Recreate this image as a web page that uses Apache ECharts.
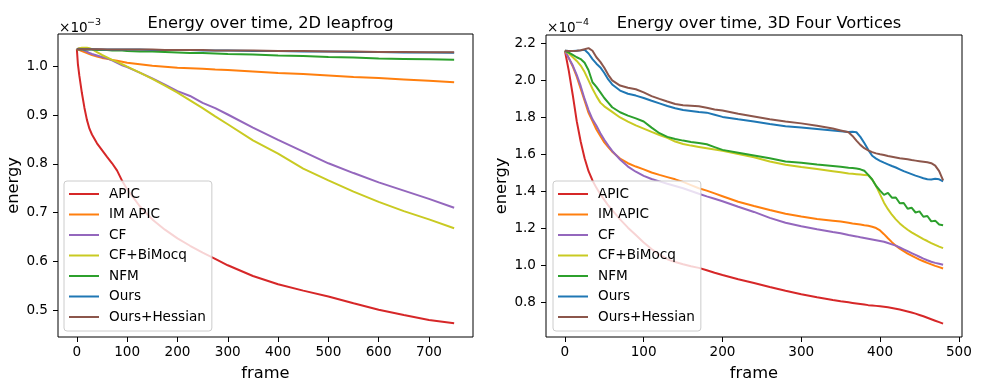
<!DOCTYPE html>
<html>
<head>
<meta charset="utf-8">
<script src="https://cdn.jsdelivr.net/npm/echarts@6/dist/echarts.min.js"></script>
<style>
html,body{margin:0;padding:0;background:#fff;}
#chart{width:985px;height:387px;}
</style>
</head>
<body>
<div id="chart"></div>
<script>
// ---------- Data ----------
const seriesNames = ['APIC', 'IM APIC', 'CF', 'CF+BiMocq', 'NFM', 'Ours', 'Ours+Hessian'];

// Left plot: 2D leapfrog (energy ×10^-3)
const leftFrames = [0,2,5,10,15,20,25,30,40,50,60,70,80,90,100,125,150,175,200,225,250,275,300,350,400,450,500,550,600,650,700,750];
const leftAPIC = [1.035,1.005,0.980,0.945,0.915,0.890,0.872,0.860,0.842,0.828,0.814,0.801,0.786,0.765,0.748,0.713,0.686,0.665,0.647,0.632,0.618,0.605,0.592,0.570,0.553,0.540,0.528,0.514,0.501,0.490,0.480,0.473];
const leftIMAPIC = [1.035,1.034,1.033,1.031,1.029,1.027,1.025,1.023,1.020,1.017,1.015,1.013,1.011,1.009,1.007,1.004,1.001,0.999,0.997,0.996,0.995,0.993,0.992,0.989,0.986,0.984,0.981,0.978,0.976,0.973,0.970,0.967];
const leftCF = [1.035,1.036,1.037,1.035,1.032,1.030,1.027,1.025,1.022,1.019,1.016,1.012,1.007,1.002,0.998,0.987,0.975,0.962,0.949,0.939,0.925,0.914,0.901,0.874,0.849,0.825,0.801,0.781,0.762,0.745,0.728,0.710];
const leftCFBiMocq = [1.035,1.036,1.037,1.038,1.038,1.038,1.037,1.035,1.029,1.023,1.018,1.013,1.009,1.004,0.999,0.987,0.974,0.960,0.946,0.930,0.914,0.897,0.881,0.848,0.821,0.790,0.766,0.743,0.722,0.703,0.686,0.668];
const leftNFM = [1.035,1.035,1.035,1.035,1.034,1.034,1.034,1.034,1.033,1.033,1.033,1.032,1.032,1.032,1.031,1.030,1.030,1.029,1.028,1.027,1.027,1.026,1.025,1.024,1.022,1.021,1.019,1.018,1.016,1.015,1.014,1.013];
const leftOurs = [1.035,1.035,1.035,1.035,1.035,1.035,1.035,1.035,1.035,1.034,1.034,1.034,1.034,1.034,1.034,1.034,1.033,1.033,1.033,1.033,1.032,1.032,1.032,1.031,1.031,1.030,1.030,1.029,1.029,1.028,1.028,1.0275];
const leftOursHessian = [1.035,1.035,1.035,1.035,1.035,1.035,1.035,1.035,1.035,1.035,1.034,1.034,1.034,1.034,1.034,1.034,1.034,1.033,1.033,1.033,1.033,1.032,1.032,1.032,1.031,1.031,1.030,1.030,1.029,1.029,1.0285,1.0285];

// Right plot: 3D Four Vortices (energy ×10^-4)
const rightFrames = [0,5,10,15,20,25,30,35,40,45,50,55,60,70,80,90,100,110,120,130,140,150,160,170,180,190,200,220,240,260,280,300,320,340,350,360,365,370,375,380,385,390,395,400,405,410,415,420,425,430,435,440,445,450,455,460,465,470,475,480];
const rightAPIC = [2.16,2.05,1.92,1.78,1.67,1.58,1.51,1.46,1.42,1.385,1.355,1.325,1.30,1.25,1.205,1.165,1.125,1.09,1.06,1.035,1.02,1.008,0.997,0.988,0.975,0.962,0.95,0.927,0.906,0.885,0.865,0.846,0.83,0.815,0.808,0.802,0.799,0.796,0.793,0.79,0.787,0.785,0.783,0.781,0.778,0.775,0.772,0.768,0.763,0.758,0.753,0.747,0.741,0.734,0.727,0.719,0.711,0.703,0.695,0.687];
const rightIMAPIC = [2.16,2.12,2.075,2.02,1.955,1.89,1.825,1.78,1.735,1.70,1.665,1.64,1.615,1.578,1.553,1.535,1.52,1.503,1.49,1.478,1.466,1.452,1.435,1.418,1.405,1.39,1.375,1.345,1.322,1.30,1.28,1.265,1.252,1.243,1.238,1.232,1.228,1.225,1.222,1.218,1.215,1.21,1.203,1.19,1.17,1.148,1.127,1.108,1.092,1.078,1.065,1.054,1.043,1.033,1.024,1.015,1.007,0.999,0.992,0.985];
const rightCF = [2.16,2.12,2.08,2.03,1.97,1.90,1.84,1.79,1.755,1.715,1.68,1.648,1.62,1.573,1.535,1.507,1.485,1.468,1.455,1.442,1.43,1.418,1.403,1.388,1.374,1.361,1.348,1.318,1.29,1.258,1.232,1.213,1.197,1.182,1.175,1.166,1.162,1.158,1.153,1.149,1.145,1.141,1.137,1.133,1.129,1.122,1.115,1.108,1.098,1.088,1.078,1.068,1.058,1.048,1.038,1.029,1.021,1.015,1.01,1.005];
const rightCFBiMocq = [2.16,2.145,2.125,2.105,2.08,2.045,2.0,1.955,1.915,1.88,1.86,1.845,1.83,1.80,1.777,1.757,1.74,1.722,1.705,1.69,1.67,1.657,1.648,1.641,1.634,1.627,1.62,1.603,1.585,1.562,1.545,1.532,1.522,1.51,1.504,1.498,1.496,1.494,1.492,1.49,1.488,1.465,1.43,1.385,1.34,1.305,1.275,1.25,1.228,1.21,1.194,1.18,1.167,1.155,1.143,1.133,1.122,1.112,1.103,1.095];
const rightNFM = [2.16,2.15,2.138,2.125,2.115,2.095,2.055,1.99,1.965,1.935,1.905,1.88,1.855,1.828,1.81,1.795,1.778,1.745,1.715,1.695,1.684,1.675,1.668,1.662,1.655,1.64,1.625,1.61,1.595,1.58,1.562,1.555,1.546,1.538,1.534,1.529,1.527,1.524,1.52,1.512,1.49,1.465,1.43,1.405,1.382,1.393,1.367,1.368,1.337,1.338,1.307,1.313,1.287,1.293,1.264,1.268,1.239,1.243,1.222,1.218];
const rightOurs = [2.16,2.158,2.158,2.16,2.162,2.165,2.145,2.115,2.09,2.07,2.04,2.005,1.978,1.945,1.928,1.918,1.905,1.89,1.876,1.862,1.85,1.84,1.835,1.83,1.826,1.815,1.803,1.79,1.778,1.765,1.753,1.746,1.738,1.73,1.725,1.721,1.723,1.72,1.695,1.662,1.625,1.593,1.578,1.566,1.556,1.547,1.538,1.53,1.52,1.51,1.502,1.494,1.486,1.479,1.472,1.466,1.465,1.469,1.466,1.455];
const rightOursHessian = [2.16,2.158,2.158,2.16,2.163,2.168,2.174,2.16,2.125,2.10,2.068,2.03,2.0,1.972,1.96,1.952,1.935,1.915,1.90,1.886,1.873,1.866,1.863,1.86,1.852,1.843,1.837,1.82,1.805,1.79,1.778,1.768,1.755,1.74,1.73,1.72,1.70,1.675,1.652,1.634,1.622,1.613,1.606,1.601,1.597,1.592,1.588,1.584,1.58,1.577,1.574,1.57,1.567,1.564,1.561,1.558,1.553,1.54,1.51,1.46];

// Tick labels
const leftXTicks = [0,100,200,300,400,500,600,700];
const leftYTicks = [0.5,0.6,0.7,0.8,0.9,1.0];
const rightXTicks = [0,100,200,300,400,500];
const rightYTicks = [0.8,1.0,1.2,1.4,1.6,1.8,2.0,2.2];

const leftTitle = 'Energy over time, 2D leapfrog';
const rightTitle = 'Energy over time, 3D Four Vortices';

// ---------- Styling ----------
const colors = ['#d62728','#ff7f0e','#9467bd','#c9ca22','#2ca02c','#1f77b4','#8c564b'];
const FONT = 'DejaVu Sans';
const leftValues = [leftAPIC, leftIMAPIC, leftCF, leftCFBiMocq, leftNFM, leftOurs, leftOursHessian];
const rightValues = [rightAPIC, rightIMAPIC, rightCF, rightCFBiMocq, rightNFM, rightOurs, rightOursHessian];

function makeSeries(frames, values, idx) {
  return values.map((vals, i) => ({
    name: seriesNames[i],
    type: 'line',
    xAxisIndex: idx,
    yAxisIndex: idx,
    showSymbol: false,
    symbol: 'none',
    data: frames.map((f, k) => [f, vals[k]]),
    lineStyle: { width: 2, color: colors[i] },
    itemStyle: { color: colors[i] },
    emphasis: { disabled: true }
  }));
}

const grids = [
  { left: 58, top: 34, width: 415, height: 303 },
  { left: 546, top: 35, width: 416, height: 302 }
];

function xAxis(idx, min, max, ticks) {
  return {
    type: 'value', gridIndex: idx, min: min, max: max,
    name: 'frame', nameLocation: 'middle', nameGap: 29,
    nameTextStyle: { fontFamily: FONT, fontSize: 16.3, color: '#000' },
    splitLine: { show: false },
    axisLine: { show: false, onZero: false },
    axisTick: { show: true, length: 5, inside: false, customValues: ticks, lineStyle: { color: '#000', width: 1 } },
    axisLabel: { customValues: ticks, fontFamily: FONT, fontSize: 13.6, color: '#000', margin: 8 }
  };
}
function yAxis(idx, min, max, ticks) {
  return {
    type: 'value', gridIndex: idx, min: min, max: max,
    name: 'energy', nameLocation: 'middle', nameGap: 36, nameRotate: 90,
    nameTextStyle: { fontFamily: FONT, fontSize: 16.3, color: '#000' },
    splitLine: { show: false },
    axisLine: { show: false, onZero: false },
    axisTick: { show: true, length: 5, inside: false, customValues: ticks, lineStyle: { color: '#000', width: 1 } },
    axisLabel: { customValues: ticks, fontFamily: FONT, fontSize: 13.6, color: '#000', margin: 10,
      formatter: v => v.toFixed(1) }
  };
}

function legend(left, top) {
  return {
    data: seriesNames,
    orient: 'vertical',
    left: left, top: top,
    icon: 'rect',
    itemWidth: 30, itemHeight: 2,
    itemGap: 6.5,
    padding: [6, 6, 7, 5],
    backgroundColor: 'rgba(255,255,255,0.8)',
    borderColor: '#cccccc', borderWidth: 1, borderRadius: 3,
    selectedMode: false,
    textStyle: { fontFamily: FONT, fontSize: 13.6, color: '#000', lineHeight: 14, padding: [0, 0, 0, 5] }
  };
}

const option = {
  animation: false,
  backgroundColor: '#ffffff',
  title: [
    { text: leftTitle, left: 265.5, top: 9, textAlign: 'center',
      textStyle: { fontFamily: FONT, fontSize: 16.3, fontWeight: 'normal', color: '#000', lineHeight: 20 } },
    { text: rightTitle, left: 754, top: 9, textAlign: 'center',
      textStyle: { fontFamily: FONT, fontSize: 16.3, fontWeight: 'normal', color: '#000', lineHeight: 20 } }
  ],
  grid: grids.map(g => Object.assign({ show: true, borderColor: '#000', borderWidth: 1, backgroundColor: 'transparent', containLabel: false }, g)),
  xAxis: [xAxis(0, -37.5, 787.5, leftXTicks), xAxis(1, -24, 504, rightXTicks)],
  yAxis: [yAxis(0, 0.445, 1.066, leftYTicks), yAxis(1, 0.615, 2.245, rightYTicks)],
  legend: [legend(64, 181), legend(553, 181)],
  series: makeSeries(leftFrames, leftValues, 0).concat(makeSeries(rightFrames, rightValues, 1)),
  graphic: [
    { type: 'text', left: 59, top: 21, style: { text: '×10', font: '13.6px "DejaVu Sans"', fill: '#000' } },
    { type: 'text', left: 87, top: 18, style: { text: '−3', font: '9.5px "DejaVu Sans"', fill: '#000' } },
    { type: 'text', left: 547, top: 21, style: { text: '×10', font: '13.6px "DejaVu Sans"', fill: '#000' } },
    { type: 'text', left: 575, top: 18, style: { text: '−4', font: '9.5px "DejaVu Sans"', fill: '#000' } }
  ]
};

const chart = echarts.init(document.getElementById('chart'), null, { renderer: 'canvas' });
chart.setOption(option);
</script>
</body>
</html>
